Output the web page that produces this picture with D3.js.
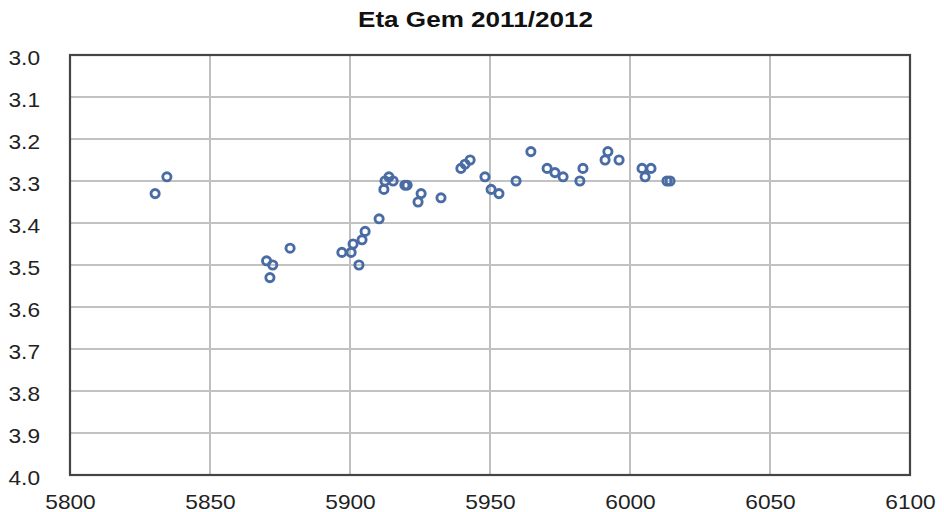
<!DOCTYPE html>
<html>
<head>
<meta charset="utf-8">
<script src="https://cdn.jsdelivr.net/npm/d3@7"></script>
<style>
  html, body { margin: 0; padding: 0; background: #fff; }
  text { font-family: "Liberation Sans", Arial, Helvetica, sans-serif; }
</style>
</head>
<body>
<svg id="chart" width="944" height="512"></svg>
<script>
const title = "Eta Gem 2011/2012";
const xTicks = [5800, 5850, 5900, 5950, 6000, 6050, 6100];
const yTicks = [3.0, 3.1, 3.2, 3.3, 3.4, 3.5, 3.6, 3.7, 3.8, 3.9, 4.0];
const jd = [5830.4, 5834.6, 5870.2, 5872.4, 5871.4, 5878.6, 5897.1, 5900.4, 5901.1, 5903.2, 5904.3, 5905.4,
            5910.4, 5912.1, 5912.5, 5913.9, 5915.4, 5919.6, 5920.4, 5924.3, 5925.4, 5932.5, 5939.6, 5941.1,
            5942.9, 5948.2, 5950.4, 5953.2, 5959.3, 5964.6, 5970.4, 5973.2, 5976.1, 5982.1, 5983.2, 5991.1,
            5992.1, 5996.1, 6004.3, 6005.4, 6007.5, 6013.2, 6014.3];
const mag = [3.33, 3.29, 3.49, 3.50, 3.53, 3.46, 3.47, 3.47, 3.45, 3.50, 3.44, 3.42,
             3.39, 3.32, 3.30, 3.29, 3.30, 3.31, 3.31, 3.35, 3.33, 3.34, 3.27, 3.26,
             3.25, 3.29, 3.32, 3.33, 3.30, 3.23, 3.27, 3.28, 3.29, 3.30, 3.27, 3.25,
             3.23, 3.25, 3.27, 3.29, 3.27, 3.30, 3.30];

const svg = d3.select("#chart");
const mLeft = 70, mRight = 910, mTop = 55, mBottom = 475;
const x = d3.scaleLinear().domain([5800, 6100]).range([mLeft, mRight]);
const y = d3.scaleLinear().domain([3.0, 4.0]).range([mTop, mBottom]);

// gridlines
svg.append("g").selectAll("line").data(xTicks.slice(1, -1)).join("line")
  .attr("x1", d => x(d)).attr("x2", d => x(d)).attr("y1", mTop).attr("y2", mBottom)
  .attr("stroke", "#b8b8b8").attr("stroke-width", 1.8);
svg.append("g").selectAll("line").data(yTicks.slice(1, -1)).join("line")
  .attr("x1", mLeft).attr("x2", mRight).attr("y1", d => y(d)).attr("y2", d => y(d))
  .attr("stroke", "#c2c2c2").attr("stroke-width", 2);

// frame
svg.append("rect").attr("x", mLeft).attr("y", mTop).attr("width", mRight - mLeft).attr("height", mBottom - mTop)
  .attr("fill", "none").attr("stroke", "#444").attr("stroke-width", 2.2);

// axes via d3 axis generators (labels only)
const yAxis = d3.axisLeft(y).tickValues(yTicks).tickFormat(d3.format(".1f")).tickSize(0).tickPadding(30);
const gy = svg.append("g").attr("transform", `translate(${mLeft},0)`).call(yAxis);
gy.select(".domain").remove();
gy.selectAll("text").attr("font-size", 21).attr("fill", "#222").attr("dy", "0.45em")
  .style("font-family", "'Liberation Sans', Arial, sans-serif");

const xAxis = d3.axisBottom(x).tickValues(xTicks).tickFormat(d3.format("d")).tickSize(0).tickPadding(19);
const gx = svg.append("g").attr("transform", `translate(0,${mBottom})`).call(xAxis);
gx.select(".domain").remove();
gx.selectAll("text").attr("font-size", 21).attr("fill", "#222")
  .style("font-family", "'Liberation Sans', Arial, sans-serif");

// slight horizontal stretch of labels to match reference
svg.selectAll(".tick text").each(function() {
  const w = this.getComputedTextLength();
  d3.select(this).attr("textLength", w * 1.08).attr("lengthAdjust", "spacingAndGlyphs");
});

// title
svg.append("text").attr("x", 475.5).attr("y", 27).attr("text-anchor", "middle")
  .attr("font-size", 22).attr("font-weight", "bold").attr("fill", "#111")
  .attr("textLength", 235).attr("lengthAdjust", "spacingAndGlyphs")
  .text(title);

// points
svg.append("g").selectAll("circle").data(jd.map((d, i) => [d, mag[i]])).join("circle")
  .attr("cx", d => x(d[0])).attr("cy", d => y(d[1])).attr("r", 4.1)
  .attr("fill", "none").attr("stroke", "#4a6ca4").attr("stroke-width", 2.9);
</script>
</body>
</html>
